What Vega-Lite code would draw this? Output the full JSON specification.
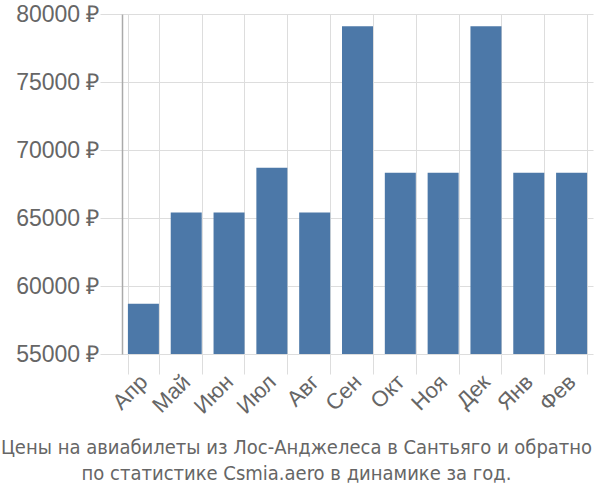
{
  "$schema": "https://vega.github.io/schema/vega-lite/v6.json",
  "autosize": "none",
  "width": 471,
  "height": 340,
  "padding": {"left": 122, "top": 14, "right": 7, "bottom": 146},
  "background": "white",
  "data": {"values": [
    {"month": "Апр", "price": 58700},
    {"month": "Май", "price": 65400},
    {"month": "Июн", "price": 65400},
    {"month": "Июл", "price": 68700},
    {"month": "Авг", "price": 65400},
    {"month": "Сен", "price": 79100},
    {"month": "Окт", "price": 68330},
    {"month": "Ноя", "price": 68330},
    {"month": "Дек", "price": 79100},
    {"month": "Янв", "price": 68330},
    {"month": "Фев", "price": 68330}
  ]},
  "title": {
    "text": ["Цены на авиабилеты из Лос-Анджелеса в Сантьяго и обратно", "по статистике Csmia.aero в динамике за год."],
    "orient": "bottom",
    "anchor": "middle",
    "font": "DejaVu Sans Condensed, Liberation Sans",
    "fontSize": 20,
    "fontWeight": "normal",
    "color": "#666666",
    "lineHeight": 26,
    "offset": 21,
    "dx": -61
  },
  "mark": {"type": "bar", "color": "#4c78a8", "width": 31, "clip": true},
  "encoding": {
    "x": {
      "field": "month", "type": "nominal", "sort": null, "title": null,
      "scale": {"paddingInner": 0.28, "paddingOuter": 0.14},
      "axis": {
        "labelAngle": -45, "labelAlign": "right", "labelBaseline": "middle",
        "labelFont": "Liberation Sans", "labelFontSize": 22, "labelColor": "#666666",
        "labelPadding": 4, "labelOverlap": false,
        "domain": false, "grid": true, "gridColor": "#dddddd", "bandPosition": 0,
        "ticks": true, "tickColor": "#dddddd", "tickSize": 20, "tickBand": "extent"
      }
    },
    "y": {
      "field": "price", "type": "quantitative", "title": null,
      "scale": {"domain": [55000, 80000], "nice": false, "zero": false},
      "axis": {
        "values": [55000, 60000, 65000, 70000, 75000, 80000],
        "labelExpr": "datum.value + ' ₽'",
        "labelFont": "Liberation Sans", "labelFontSize": 23, "labelColor": "#666666",
        "labelPadding": 1,
        "domain": true, "domainColor": "#aaaaaa", "domainWidth": 1.5,
        "grid": true, "gridColor": "#dddddd",
        "ticks": true, "tickColor": "#dddddd", "tickSize": 22
      }
    }
  },
  "config": {"view": {"stroke": null}}
}
